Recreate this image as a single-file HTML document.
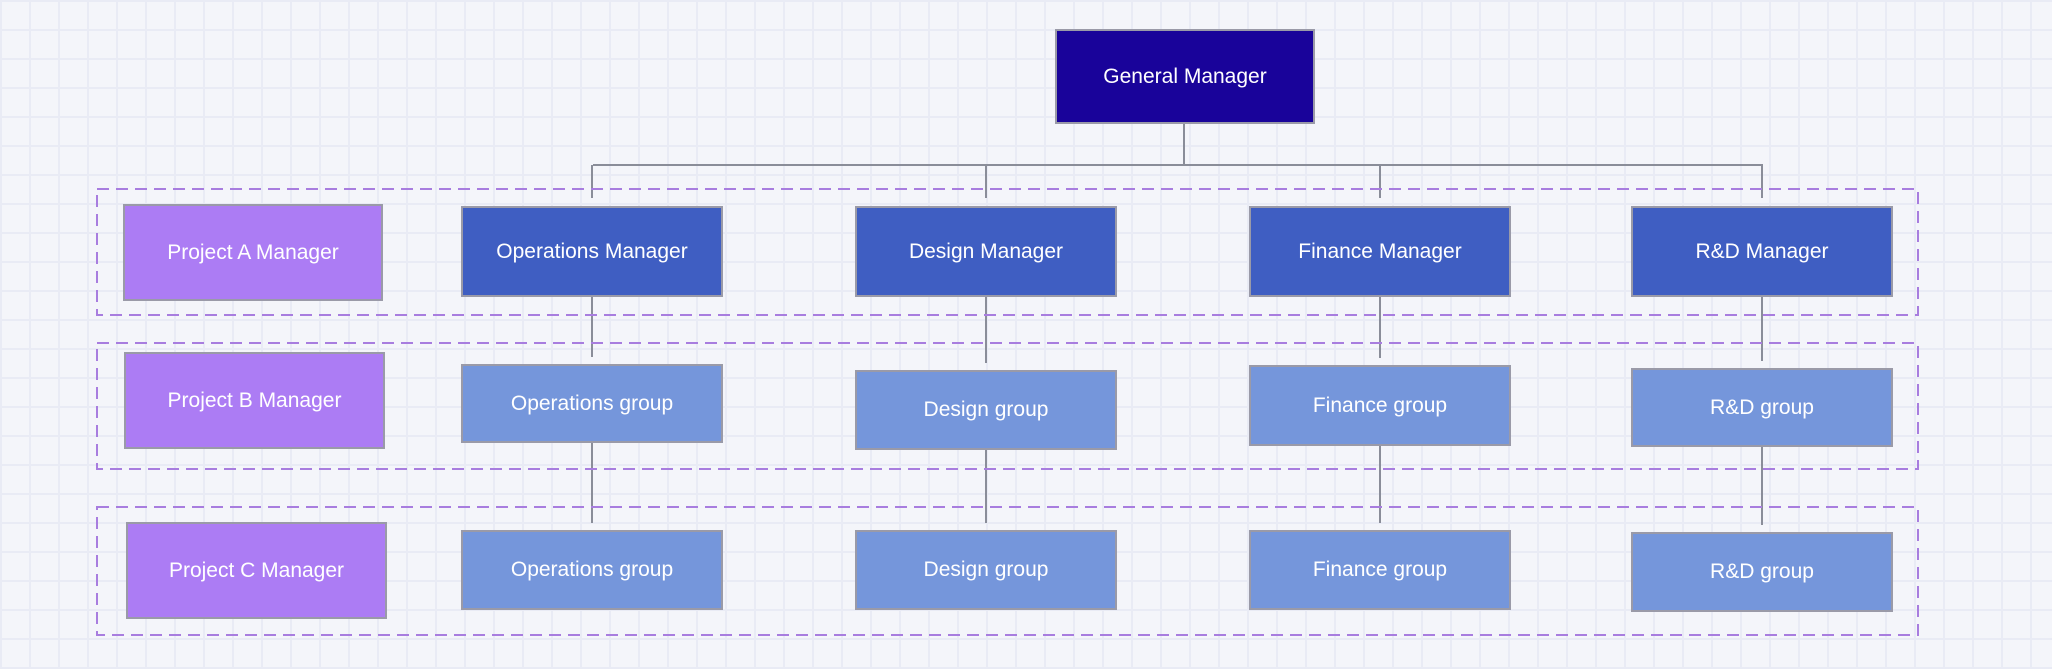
<!DOCTYPE html>
<html><head><meta charset="utf-8"><style>
html,body{margin:0;padding:0}
body{width:2052px;height:669px;position:relative;overflow:hidden;background:#f4f5fa;
background-image:linear-gradient(#e9ebf5 2px,transparent 2px),linear-gradient(90deg,#e9ebf5 2px,transparent 2px);
background-size:29px 29px;font-family:"Liberation Sans",sans-serif}
.b{position:absolute;box-sizing:border-box;border:2px solid #9a9aa8;color:#fff;display:flex;align-items:center;justify-content:center;font-size:21px}
.gm{background:#19039a}.m{background:#3f5ec2}.g{background:#7596db}.p{background:#ac7cf4}
svg{position:absolute;left:0;top:0}
</style></head><body>
<svg width="2052" height="669">
<g stroke="#8a8d99" stroke-width="2" fill="none">
<line x1="1184" y1="124" x2="1184" y2="165"/>
<line x1="593" y1="165" x2="1763" y2="165"/>
<line x1="592" y1="165" x2="592" y2="198"/>
<line x1="986" y1="165" x2="986" y2="198"/>
<line x1="1380" y1="165" x2="1380" y2="198"/>
<line x1="1762" y1="165" x2="1762" y2="198"/>
<line x1="592" y1="296" x2="592" y2="357"/>
<line x1="986" y1="296" x2="986" y2="363"/>
<line x1="1380" y1="296" x2="1380" y2="358"/>
<line x1="1762" y1="296" x2="1762" y2="361"/>
<line x1="592" y1="442" x2="592" y2="523"/>
<line x1="986" y1="449" x2="986" y2="523"/>
<line x1="1380" y1="445" x2="1380" y2="523"/>
<line x1="1762" y1="446" x2="1762" y2="525"/>
</g>
<g stroke="#a87ddf" stroke-width="2" fill="none" stroke-dasharray="12 7">
<rect x="97" y="189" width="1821" height="126"/>
<rect x="97" y="343" width="1821" height="126"/>
<rect x="97" y="507" width="1821" height="128"/>
</g></svg>
<div class="b gm" style="left:1055px;top:29px;width:260px;height:95px">General Manager</div>
<div class="b p" style="left:123px;top:204px;width:260px;height:97px">Project A Manager</div>
<div class="b p" style="left:124px;top:352px;width:261px;height:97px">Project B Manager</div>
<div class="b p" style="left:126px;top:522px;width:261px;height:97px">Project C Manager</div>
<div class="b m" style="left:461px;top:206px;width:262px;height:91px">Operations Manager</div>
<div class="b m" style="left:855px;top:206px;width:262px;height:91px">Design Manager</div>
<div class="b m" style="left:1249px;top:206px;width:262px;height:91px">Finance Manager</div>
<div class="b m" style="left:1631px;top:206px;width:262px;height:91px">R&amp;D Manager</div>
<div class="b g" style="left:461px;top:364px;width:262px;height:79px">Operations group</div>
<div class="b g" style="left:855px;top:370px;width:262px;height:80px">Design group</div>
<div class="b g" style="left:1249px;top:365px;width:262px;height:81px">Finance group</div>
<div class="b g" style="left:1631px;top:368px;width:262px;height:79px">R&amp;D group</div>
<div class="b g" style="left:461px;top:530px;width:262px;height:80px">Operations group</div>
<div class="b g" style="left:855px;top:530px;width:262px;height:80px">Design group</div>
<div class="b g" style="left:1249px;top:530px;width:262px;height:80px">Finance group</div>
<div class="b g" style="left:1631px;top:532px;width:262px;height:80px">R&amp;D group</div>
</body></html>
